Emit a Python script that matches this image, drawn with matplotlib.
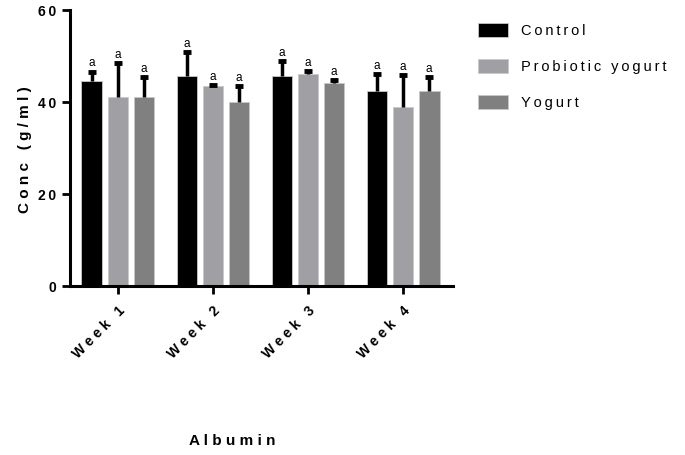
import numpy as np
import matplotlib
matplotlib.use("Agg")
import matplotlib.pyplot as plt

plt.rcParams['font.family'] = ['Liberation Sans', 'DejaVu Sans']

# data
weeks = ['Week 1', 'Week 2', 'Week 3', 'Week 4']
groups = ['Control', 'Probiotic yogurt', 'Yogurt']
control = [44.5, 45.6, 45.6, 42.5]
control_err = [2.1, 5.2, 3.3, 3.6]
probiotic = [41.1, 43.4, 46.1, 38.9]
probiotic_err = [7.4, 0.3, 0.6, 7.0]
yogurt = [41.0, 40.1, 44.1, 42.3]
yogurt_err = [4.4, 3.4, 0.7, 3.1]

colors = ['#000000', '#a0a0a4', '#808080']
means = [control, probiotic, yogurt]
errs = [control_err, probiotic_err, yogurt_err]

def spaced(s, sep='\u2009'):
    # fake letter spacing like the PRISM export
    return (sep + ' ' + sep).join(sep.join(word) for word in s.split(' '))

fig = plt.figure(figsize=(6.85, 4.55), dpi=100)
ax = fig.add_axes([70/685, 169/455, 383/685, 276/455])

x = np.arange(len(weeks))
w = 0.22
step = 0.274
for i, (m, e, c, g) in enumerate(zip(means, errs, colors, groups)):
    xs = x + (i - 1) * step
    ax.bar(xs, m, width=w, color=c, edgecolor='#c8c8c8', linewidth=0.6, label=g, zorder=2)
    eb = ax.errorbar(xs, m, yerr=[np.zeros(len(m)), e], fmt='none', ecolor='black',
                     elinewidth=2.5, capsize=3, capthick=3.5, zorder=3)
    eb[1][0].set_visible(False)  # no lower cap
    for xi, mi, ei in zip(xs, m, e):
        ax.text(xi, mi + ei + 0.5, 'a', ha='center', va='bottom', fontsize=8.5)

ax.set_xlim(-0.505, 3.526)
ax.set_ylim(0, 60)
ax.set_yticks([0, 20, 40, 60])
ax.set_yticklabels([spaced(str(v)) for v in [0, 20, 40, 60]], fontweight='bold', fontsize=10)
ax.set_xticks(x)
ax.set_xticklabels([spaced(s, ' ') for s in weeks], rotation=45, ha='right',
                   rotation_mode='anchor', fontweight='bold', fontsize=10)
ax.tick_params(axis='both', width=2, length=6, direction='out')
ax.tick_params(axis='x', pad=7)
ax.tick_params(axis='y', pad=4)
for s in ['top', 'right']:
    ax.spines[s].set_visible(False)
for s in ['left', 'bottom']:
    ax.spines[s].set_linewidth(2.2)
ax.set_ylabel(spaced('Conc (g/ml)', ' '), fontweight='bold', fontsize=11)
ax.yaxis.set_label_coords(32/685, 1 - 150/455, transform=fig.transFigure)

fig.text(232/685, 1 - 441/455, spaced('Albumin', ' '), ha='center', va='center',
         fontweight='bold', fontsize=11)

leg = ax.legend(loc='upper left', bbox_to_anchor=(465/685, 1 - 10/455),
                bbox_transform=fig.transFigure, frameon=False, fontsize=10.5,
                handlelength=2.05, handleheight=1.1, handletextpad=0.9,
                labelspacing=1.45)
for t in leg.get_texts():
    t.set_text(spaced(t.get_text()))

fig.savefig('out.png', dpi=100)
